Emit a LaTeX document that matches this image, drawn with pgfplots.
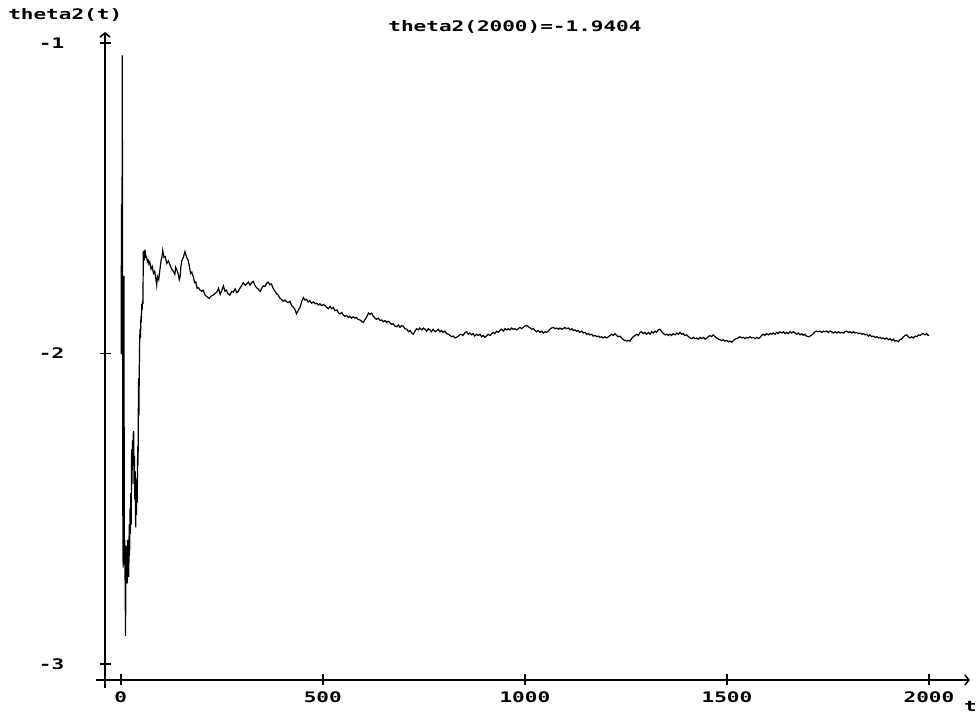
\documentclass[border=0pt]{standalone}
\usepackage{fontspec}
\usepackage{pgfplots}
\pgfplotsset{compat=1.18}
\usetikzlibrary{arrows.meta}
\newfontfamily\pixfont{DejaVu Sans Mono}[FakeStretch=1.45]
\newcommand\pf{\pixfont\bfseries\fontsize{14.5}{16}\selectfont}

\begin{document}
\begin{tikzpicture}
\begin{axis}[
    scale only axis,
    width=865pt, height=648pt,
    xmin=-38.85, xmax=2101.4,
    ymin=-3.0515, ymax=-0.9646,
    axis lines=left,
    axis line style={line width=1.6pt, -{Straight Barb[length=4pt,width=10pt,line width=1.6pt]}},
    x axis line style={shorten <=-9pt},
    y axis line style={shorten <=-8pt},
    xtick={0,500,1000,1500,2000},
    ytick={-3,-2,-1},
    tick align=center,
    major tick length=11pt,
    tick style={line width=1.6pt, black},
    /pgf/number format/assume math mode=true,
    /pgf/number format/1000 sep={},
    ticklabel style={font=\pf, inner sep=0pt},
    yticklabel style={anchor=east, xshift=-35pt},
    xticklabel style={anchor=north, yshift=-6.5pt},
    title={theta2(2000)=-1.9404},
    title style={font=\pf, at={(axis description cs:0.474,0.9985)}, anchor=center},
    xlabel={t},
    ylabel={theta2(t)},
    every axis x label/.style={font=\pf, inner sep=0pt, at={(axis description cs:1.008,-0.049)}, anchor=south east},
    every axis y label/.style={font=\pf, at={(axis description cs:-0.046,1.026)}, anchor=center},
    clip=false,
]
\addplot[black, line width=1.2pt] coordinates {
(0,-2.00) (1,-2.00) (2,-1.52) (3,-1.75) (4,-1.04) (5,-2.45) (6,-2.69) (7,-2.35) (8,-1.75) (9,-2.68)
(10,-2.60) (11,-2.75) (12,-2.91) (13,-2.62) (14,-2.72) (15,-2.66) (16,-2.74) (17,-2.60) (18,-2.70) (19,-2.64)
(20,-2.72) (21,-2.55) (22,-2.65) (23,-2.50) (24,-2.58) (25,-2.45) (26,-2.55) (27,-2.31) (28,-2.42) (29,-2.28)
(30,-2.36) (31,-2.26) (32,-2.25) (33,-2.42) (34,-2.33) (35,-2.47) (36,-2.38) (37,-2.56) (38,-2.45) (39,-2.52)
(40,-2.40) (41,-2.48) (42,-2.30) (43,-2.36) (44,-2.08) (45,-2.20) (46,-2.05) (47,-1.95) (48,-1.92) (49,-1.95)
(50,-1.88) (51,-1.90) (52,-1.84) (53,-1.86) (54,-1.83) (55,-1.84) (56,-1.67) (58,-1.70) (60,-1.665)
(62,-1.690) (64,-1.688) (66,-1.705) (68,-1.700) (70,-1.712) (72,-1.706) (75,-1.728) (78,-1.720) (81,-1.742)
(84,-1.735) (87,-1.760) (89,-1.780) (91,-1.752) (94,-1.762) (96,-1.740) (100,-1.700) (102,-1.690) (104,-1.668)
(107,-1.690) (110,-1.688) (114,-1.710) (118,-1.702) (122,-1.715) (126,-1.728) (130,-1.735) (134,-1.745)
(136,-1.722) (138,-1.728) (142,-1.742) (145,-1.762) (147,-1.752) (149,-1.720) (151,-1.702) (155,-1.690)
(159,-1.672) (163,-1.690) (167,-1.700) (170,-1.720) (173,-1.742) (176,-1.738) (180,-1.755) (183,-1.772)
(186,-1.770) (189,-1.790) (192,-1.788) (196,-1.795) (200,-1.800) (204,-1.796) (209,-1.812) (214,-1.818)
(219,-1.822) (224,-1.815) (229,-1.812) (234,-1.806) (238,-1.802) (242,-1.790) (246,-1.810) (250,-1.798)
(254,-1.782) (258,-1.800) (261,-1.796) (266,-1.808) (270,-1.812) (275,-1.800) (279,-1.802) (283,-1.792)
(287,-1.804) (291,-1.800) (295,-1.790) (299,-1.782) (303,-1.772) (308,-1.780) (312,-1.776) (316,-1.770)
(320,-1.780) (324,-1.772) (328,-1.768) (332,-1.780) (336,-1.788) (340,-1.792) (345,-1.800) (349,-1.790)
(353,-1.782) (357,-1.784) (361,-1.774) (365,-1.770) (369,-1.778) (373,-1.776) (377,-1.790) (382,-1.800)
(386,-1.808) (390,-1.812) (394,-1.822) (398,-1.826) (402,-1.832) (406,-1.828) (411,-1.834) (415,-1.836)
(419,-1.832) (423,-1.846) (427,-1.850) (431,-1.858) (435,-1.872) (439,-1.862) (444,-1.850) (448,-1.832)
(452,-1.820) (456,-1.828) (460,-1.826) (464,-1.834) (468,-1.830) (472,-1.838) (477,-1.834) (481,-1.840)
(485,-1.838) (489,-1.844) (493,-1.840) (497,-1.846) (502,-1.842) (506,-1.846) (510,-1.852) (514,-1.856)
(518,-1.848) (522,-1.856) (526,-1.852) (530,-1.862) (535,-1.860) (539,-1.870) (543,-1.872) (547,-1.868)
(551,-1.876) (555,-1.880) (559,-1.878) (563,-1.884) (567,-1.880) (571,-1.886) (575,-1.882) (579,-1.886)
(583,-1.884) (587,-1.890) (592,-1.892) (596,-1.896) (600,-1.900) (604,-1.892) (608,-1.884) (613,-1.870)
(617,-1.874) (621,-1.870) (625,-1.880) (629,-1.886) (633,-1.890) (637,-1.886) (642,-1.894) (646,-1.892)
(650,-1.898) (654,-1.894) (658,-1.900) (662,-1.896) (666,-1.900) (670,-1.906) (674,-1.904) (679,-1.912)
(683,-1.914) (687,-1.908) (691,-1.916) (695,-1.910) (699,-1.912) (703,-1.920) (708,-1.922) (712,-1.930)
(716,-1.926) (720,-1.934) (724,-1.938) (728,-1.928) (732,-1.920) (736,-1.924) (740,-1.918) (745,-1.924)
(749,-1.918) (753,-1.922) (757,-1.928) (761,-1.920) (765,-1.924) (769,-1.930) (773,-1.922) (778,-1.930)
(782,-1.926) (786,-1.922) (790,-1.930) (794,-1.926) (798,-1.932) (802,-1.928) (806,-1.936) (811,-1.938)
(815,-1.942) (819,-1.946) (823,-1.944) (827,-1.950) (831,-1.948) (835,-1.944) (839,-1.940) (843,-1.938)
(847,-1.942) (852,-1.932) (856,-1.930) (860,-1.938) (864,-1.934) (868,-1.940) (872,-1.936) (876,-1.944)
(880,-1.938) (885,-1.942) (889,-1.938) (893,-1.946) (897,-1.942) (901,-1.948) (905,-1.944) (909,-1.938)
(914,-1.942) (918,-1.936) (922,-1.932) (926,-1.936) (930,-1.928) (934,-1.932) (938,-1.926) (942,-1.922)
(947,-1.928) (951,-1.920) (955,-1.924) (959,-1.920) (963,-1.924) (967,-1.918) (971,-1.922) (975,-1.920)
(980,-1.924) (984,-1.920) (988,-1.916) (992,-1.920) (996,-1.916) (1000,-1.912) (1005,-1.910) (1009,-1.914)
(1013,-1.918) (1017,-1.922) (1021,-1.920) (1025,-1.926) (1029,-1.930) (1033,-1.926) (1038,-1.932) (1042,-1.928)
(1046,-1.934) (1050,-1.930) (1054,-1.932) (1058,-1.928) (1062,-1.922) (1066,-1.918) (1070,-1.916) (1075,-1.920)
(1079,-1.918) (1083,-1.922) (1087,-1.918) (1091,-1.922) (1095,-1.920) (1099,-1.916) (1103,-1.920) (1108,-1.918)
(1112,-1.924) (1116,-1.920) (1120,-1.926) (1124,-1.924) (1128,-1.928) (1132,-1.926) (1136,-1.932) (1141,-1.928)
(1145,-1.934) (1149,-1.932) (1153,-1.938) (1157,-1.936) (1161,-1.940) (1165,-1.938) (1169,-1.944) (1174,-1.942)
(1178,-1.946) (1182,-1.944) (1186,-1.948) (1190,-1.946) (1194,-1.950) (1198,-1.946) (1202,-1.950) (1207,-1.946)
(1211,-1.942) (1215,-1.938) (1219,-1.942) (1223,-1.936) (1227,-1.942) (1231,-1.946) (1235,-1.944) (1240,-1.950)
(1244,-1.956) (1248,-1.958) (1252,-1.960) (1256,-1.958) (1260,-1.960) (1264,-1.952) (1268,-1.946) (1273,-1.942)
(1277,-1.938) (1281,-1.942) (1285,-1.932) (1289,-1.930) (1293,-1.936) (1297,-1.932) (1301,-1.938) (1306,-1.932)
(1310,-1.938) (1314,-1.930) (1318,-1.934) (1322,-1.928) (1326,-1.932) (1330,-1.924) (1334,-1.922) (1339,-1.930)
(1343,-1.936) (1347,-1.940) (1351,-1.938) (1355,-1.942) (1359,-1.938) (1363,-1.942) (1367,-1.936) (1372,-1.940)
(1376,-1.934) (1380,-1.938) (1384,-1.932) (1388,-1.938) (1392,-1.936) (1396,-1.942) (1400,-1.940) (1405,-1.946)
(1409,-1.950) (1413,-1.952) (1417,-1.948) (1421,-1.952) (1425,-1.950) (1429,-1.954) (1433,-1.948) (1438,-1.952)
(1442,-1.948) (1446,-1.954) (1450,-1.950) (1454,-1.946) (1458,-1.942) (1462,-1.946) (1466,-1.940) (1471,-1.946)
(1475,-1.950) (1479,-1.954) (1483,-1.956) (1487,-1.958) (1491,-1.956) (1495,-1.960) (1499,-1.958) (1504,-1.962)
(1508,-1.960) (1512,-1.964) (1516,-1.958) (1520,-1.954) (1524,-1.952) (1528,-1.950) (1532,-1.946) (1537,-1.950)
(1541,-1.948) (1545,-1.952) (1549,-1.948) (1553,-1.950) (1557,-1.946) (1561,-1.950) (1565,-1.948) (1570,-1.952)
(1574,-1.948) (1578,-1.952) (1582,-1.948) (1586,-1.942) (1590,-1.938) (1594,-1.942) (1598,-1.936) (1603,-1.940)
(1607,-1.936) (1611,-1.938) (1615,-1.934) (1619,-1.938) (1623,-1.932) (1627,-1.936) (1631,-1.930) (1636,-1.934)
(1640,-1.930) (1644,-1.936) (1648,-1.932) (1652,-1.936) (1656,-1.930) (1660,-1.934) (1664,-1.930) (1669,-1.934)
(1673,-1.938) (1677,-1.934) (1681,-1.940) (1685,-1.936) (1689,-1.942) (1693,-1.938) (1697,-1.944) (1702,-1.946)
(1706,-1.944) (1710,-1.940) (1714,-1.936) (1718,-1.930) (1722,-1.928) (1726,-1.930) (1730,-1.928) (1735,-1.932)
(1739,-1.928) (1743,-1.930) (1747,-1.928) (1751,-1.932) (1755,-1.928) (1759,-1.930) (1763,-1.934) (1768,-1.930)
(1772,-1.934) (1776,-1.930) (1780,-1.934) (1784,-1.932) (1788,-1.934) (1792,-1.930) (1796,-1.928) (1801,-1.932)
(1805,-1.930) (1809,-1.934) (1813,-1.930) (1817,-1.934) (1821,-1.932) (1825,-1.936) (1829,-1.934) (1834,-1.938)
(1838,-1.936) (1842,-1.940) (1846,-1.938) (1850,-1.944) (1854,-1.940) (1858,-1.946) (1862,-1.944) (1867,-1.948)
(1871,-1.946) (1875,-1.950) (1879,-1.948) (1883,-1.952) (1887,-1.950) (1891,-1.954) (1895,-1.950) (1900,-1.956)
(1904,-1.952) (1908,-1.958) (1912,-1.954) (1916,-1.960) (1920,-1.958) (1924,-1.962) (1928,-1.956) (1933,-1.952)
(1937,-1.946) (1941,-1.942) (1945,-1.940) (1949,-1.946) (1953,-1.950) (1957,-1.946) (1961,-1.950) (1966,-1.944)
(1970,-1.946) (1974,-1.940) (1978,-1.942) (1982,-1.938) (1986,-1.936) (1990,-1.940) (1994,-1.936) (1998,-1.942)
(2000,-1.9404)
};
\coordinate (bbsw) at (axis description cs:-0.1214,-0.0571);
\coordinate (bbne) at (axis description cs:1.0116,1.0494);
\end{axis}
\pgfresetboundingbox
\path[use as bounding box] (bbsw) rectangle (bbne);
\end{tikzpicture}
\end{document}
